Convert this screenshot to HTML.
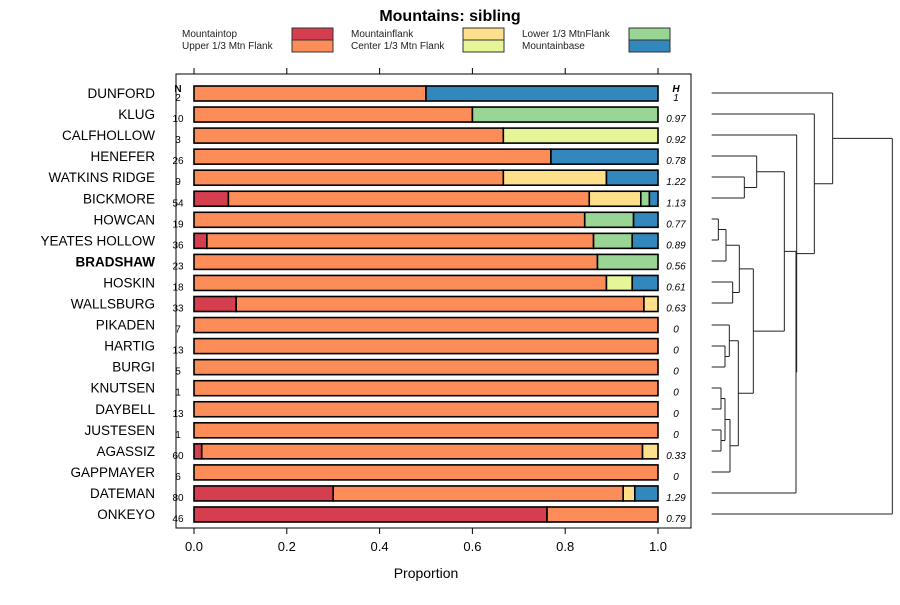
<!DOCTYPE html>
<html><head><meta charset="utf-8"><style>
body{margin:0;background:#fff;font-family:"Liberation Sans",sans-serif}
</style></head><body>
<svg id="c" width="900" height="600" xmlns="http://www.w3.org/2000/svg" font-family="Liberation Sans, sans-serif"></svg>
<script>
const categories=["DUNFORD","KLUG","CALFHOLLOW","HENEFER","WATKINS RIDGE","BICKMORE","HOWCAN","YEATES HOLLOW","BRADSHAW","HOSKIN","WALLSBURG","PIKADEN","HARTIG","BURGI","KNUTSEN","DAYBELL","JUSTESEN","AGASSIZ","GAPPMAYER","DATEMAN","ONKEYO"];
const nValues=[2,10,3,26,9,54,19,36,23,18,33,7,13,5,1,13,1,60,6,80,46];
const hValues=["1","0.97","0.92","0.78","1.22","1.13","0.77","0.89","0.56","0.61","0.63","0","0","0","0","0","0","0.33","0","1.29","0.79"];
const seriesNames=["Mountaintop","Upper 1/3 Mtn Flank","Mountainflank","Center 1/3 Mtn Flank","Lower 1/3 MtnFlank","Mountainbase"];
const seriesColors=["#d53e4f","#fc8d59","#fee08b","#e6f598","#99d594","#3288bd"];
const mountaintop=[0,0,0,0,0,4,0,1,0,0,3,0,0,0,0,0,0,1,0,24,35];
const upperFlank=[1,6,2,20,6,42,16,30,20,16,29,7,13,5,1,13,1,57,6,50,11];
const mountainflank=[0,0,0,0,2,6,0,0,0,0,1,0,0,0,0,0,0,2,0,2,0];
const centerFlank=[0,0,1,0,0,0,0,0,0,1,0,0,0,0,0,0,0,0,0,0,0];
const lowerFlank=[0,4,0,0,0,1,2,3,3,0,0,0,0,0,0,0,0,0,0,0,0];
const mountainbase=[1,0,0,6,1,1,1,2,0,1,0,0,0,0,0,0,0,0,0,4,0];
const xTicks=[0,0.2,0.4,0.6,0.8,1.0];
const xTickLabels=["0.0","0.2","0.4","0.6","0.8","1.0"];
const series=[mountaintop,upperFlank,mountainflank,centerFlank,lowerFlank,mountainbase];

const svg=document.getElementById('c');const NS="http://www.w3.org/2000/svg";
function el(t,a,txt){const e=document.createElementNS(NS,t);for(const k in a)e.setAttribute(k,a[k]);if(txt!==undefined)e.textContent=txt;svg.appendChild(e);return e;}
const X=v=>194+v*464;
const Y=i=>93+i*21.05;

let e=el('text',{x:450,y:21,'text-anchor':'middle','font-size':16,'font-weight':'bold'},'Mountains: sibling');


const lx=[182,351,522],bx=[292,463,629];
seriesNames.forEach((s,k)=>{const col=Math.floor(k/2),row=k%2;
 let t=el('text',{x:lx[col],y:37+row*12,'font-size':10,fill:'#222'},s);
 
 
 let r=el('rect',{x:bx[col],y:28+row*12,width:41,height:12,fill:seriesColors[k],stroke:'#333','stroke-width':1});
 
 
});
e=el('rect',{x:176,y:74,width:515,height:454,fill:'none',stroke:'#000','stroke-width':1});


xTicks.forEach((v,i)=>{
 el('line',{x1:X(v),x2:X(v),y1:74,y2:68,stroke:'#000'});
 el('line',{x1:X(v),x2:X(v),y1:528,y2:534,stroke:'#000'});
 let t=el('text',{x:X(v),y:551,'text-anchor':'middle','font-size':13},xTickLabels[i]);
 
 
});
e=el('text',{x:426,y:578,'text-anchor':'middle','font-size':14},'Proportion');


el('text',{x:178,y:92,'text-anchor':'middle','font-size':10,'font-weight':'bold'},'N');
el('text',{x:676,y:92,'text-anchor':'middle','font-size':10,'font-weight':'bold','font-style':'italic'},'H');
categories.forEach((c,i)=>{
 const y=Y(i);
 let t=el('text',{x:155,y:y+5,'text-anchor':'end','font-size':13.5,'font-weight':c==='BRADSHAW'?'bold':'normal'},c);
 
 
 t=el('text',{x:178,y:y+8,'text-anchor':'middle','font-size':10},nValues[i]);
 
 
 t=el('text',{x:676,y:y+8,'text-anchor':'middle','font-size':10,'font-style':'italic'},hValues[i]);
 
 
 const tot=series.reduce((a,s)=>a+s[i],0);let acc=0;
 series.forEach((s,k)=>{if(!s[i])return;const w=s[i]/tot;
  let r=el('rect',{x:X(acc),y:y-7,width:X(acc+w)-X(acc),height:15,fill:seriesColors[k],stroke:'#000','stroke-width':1.6});
  
  
  acc+=w;});
});
const segs=[];
function node(x,a,b,ax,bx){segs.push([ax,a,x,a],[bx,b,x,b],[x,a,x,b]);return (a+b)/2;}
const L=65;
let A=node(163,321,384,L,L);let B=node(200,258,A,L,163);
let C=node(85,447,510,L,L);let D=node(108,C,573,85,L);let E=node(128,636,699,L,L);let F=node(148,D,E,108,128);
let G=node(105,828,891,L,L);let H=node(118,765,G,L,105);
let I=node(93,954,1017,L,L);let J=node(93,1080,1143,L,L);let K=node(105,I,J,93,93);let M=node(120,K,1206,105,L);
let N=node(145,H,M,118,120);let P=node(190,F,N,148,145);let Q=node(283,B,P,200,190);
let R=node(318,Q,1269,283,L);let S=node(320,195,R,L,318);let T=node(373,132,S,L,320);
let U=node(428,69,T,L,373);node(607,U,1332,428,L);
let d='';segs.forEach(s=>{d+=`M${690+s[0]/3},${70+s[1]/3}L${690+s[2]/3},${70+s[3]/3}`;});
e=el('path',{d:d,stroke:'#222',fill:'none','stroke-width':1});


</script>
</body></html>
